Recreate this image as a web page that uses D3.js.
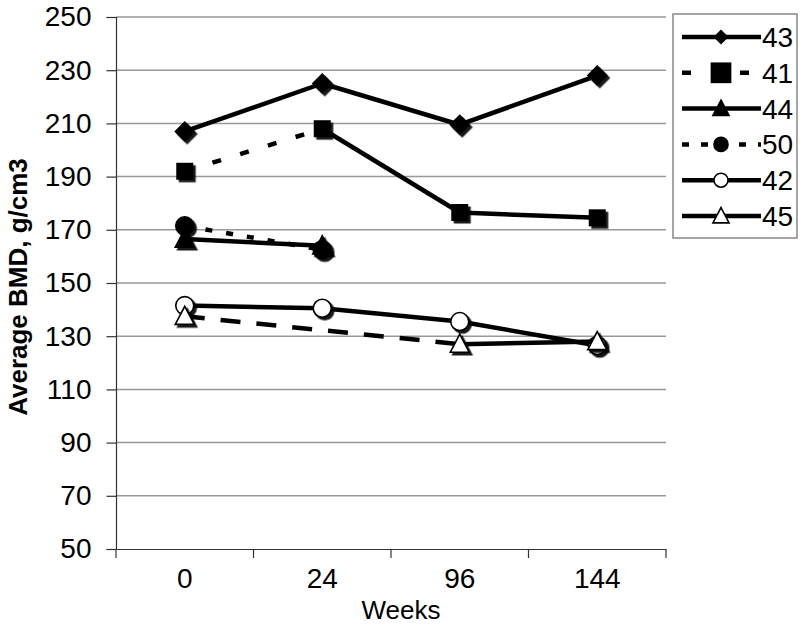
<!DOCTYPE html>
<html>
<head>
<meta charset="utf-8">
<script src="https://cdn.jsdelivr.net/npm/d3@7"></script>
<style>
  html, body { margin: 0; padding: 0; background: #fff; }
  svg { display: block; font-family: "Liberation Sans", Arial, sans-serif; }
</style>
</head>
<body>
<svg id="chart" width="800" height="630"></svg>
<script>
// ---- data ----
const weeks = ["0", "24", "96", "144"];
const yTicks = [50, 70, 90, 110, 130, 150, 170, 190, 210, 230, 250];
const seriesNames = ["43", "41", "44", "50", "42", "45"];
const s43 = [207, 225, 209.5, 228];
const s41 = [192, 208, 176.5, 174.5];
const s44 = [166.5, 164, null, null];
const s50 = [171.5, 162.5, null, null];
const s42 = [141.5, 140.5, 135.5, 126.5];
const s45 = [137.5, null, 127, 128];
const seriesValues = [s43, s41, s44, s50, s42, s45];

// ---- styles (kept separate from data) ----
const markerType = { "43": "diamond", "41": "square", "44": "triangle", "50": "circle", "42": "ocircle", "45": "otriangle" };
const legendMarkerScale = { "43": 0.72, "41": 1.22, "44": 0.85, "50": 0.78, "42": 0.78, "45": 0.85 };
const legendDash = { "43": null, "41": "9,20", "44": null, "50": "7,12", "42": null, "45": null };
// per-segment dash pattern (segment i joins consecutive plotted points)
const segmentDash = {
  "43": [null, null, null],
  "41": ["9,20", null, null],
  "44": [null],
  "50": ["7,14"],
  "42": [null, null, null],
  "45": ["20,16", null]
};

const svg = d3.select("#chart");
const margin = { left: 116, right: 134, top: 17, bottom: 81 };
const W = 800, H = 630;
const x0 = margin.left, x1 = W - margin.right;
const yTop = margin.top, yBot = H - margin.bottom;

const defs = svg.append("defs");
const f = defs.append("filter").attr("id", "shadow").attr("x", "-50%").attr("y", "-50%").attr("width", "200%").attr("height", "200%");
f.append("feDropShadow").attr("dx", 2.5).attr("dy", 2.5).attr("stdDeviation", 0.6).attr("flood-color", "#000").attr("flood-opacity", 0.9);

const x = d3.scaleBand().domain(weeks).range([x0, x1]).padding(0);
const y = d3.scaleLinear().domain([50, 250]).range([yBot, yTop]);
const cx = d => x(d) + x.bandwidth() / 2;

// gridlines
svg.append("g").selectAll("line").data(yTicks.filter(t => t > 50)).join("line")
  .attr("x1", x0).attr("x2", x1)
  .attr("y1", d => y(d)).attr("y2", d => y(d))
  .attr("stroke", "#999").attr("stroke-width", 1.5);

// y axis
const yAxis = svg.append("g").attr("transform", `translate(${x0},0)`)
  .call(d3.axisLeft(y).tickValues(yTicks).tickSize(9.5).tickPadding(15).tickFormat(d3.format("d")));
yAxis.select(".domain").attr("stroke", "#333").attr("stroke-width", 1.2);
yAxis.selectAll(".tick line").attr("stroke", "#333").attr("stroke-width", 1.2);
yAxis.selectAll("text").attr("font-size", 28).attr("fill", "#000").attr("font-family", "Liberation Sans, Arial, sans-serif");

// x axis
const xAxis = svg.append("g").attr("transform", `translate(0,${yBot})`)
  .call(d3.axisBottom(x).tickSize(0).tickPadding(0));
xAxis.select(".domain").attr("stroke", "#333").attr("stroke-width", 1.2);
xAxis.selectAll("text").attr("font-size", 28).attr("fill", "#000").attr("y", 39).attr("dy", null)
  .attr("font-family", "Liberation Sans, Arial, sans-serif");
// category boundary ticks
const bounds = weeks.map(d => x(d)).concat([x1]);
svg.append("g").selectAll("line").data(bounds).join("line")
  .attr("x1", d => d).attr("x2", d => d).attr("y1", yBot).attr("y2", yBot + 9)
  .attr("stroke", "#333").attr("stroke-width", 1.2);

// axis titles
svg.append("text").attr("x", (x0 + x1) / 2 + 10).attr("y", 619).attr("text-anchor", "middle")
  .attr("font-size", 26).text("Weeks");
svg.append("text").attr("transform", `translate(27,287) rotate(-90)`)
  .attr("text-anchor", "middle").attr("font-size", 26).attr("font-weight", "bold").text("Average BMD, g/cm3");

// marker drawing
function drawMarker(g, type, px, py, scale, shadow) {
  const s = scale || 1;
  const sh = g.append("g").attr("filter", shadow ? "url(#shadow)" : null);
  if (type === "diamond") {
    const r = 10.5 * s;
    sh.append("path").attr("d", `M${px},${py - r}L${px + r},${py}L${px},${py + r}L${px - r},${py}Z`).attr("fill", "#000");
  } else if (type === "square") {
    const r = 8.5 * s;
    sh.append("rect").attr("x", px - r).attr("y", py - r).attr("width", 2 * r).attr("height", 2 * r).attr("fill", "#000");
  } else if (type === "triangle" || type === "otriangle") {
    const r = 9.5 * s;
    sh.append("path").attr("d", `M${px},${py - r * 1.05}L${px + r},${py + r * 0.85}L${px - r},${py + r * 0.85}Z`)
      .attr("fill", type === "triangle" ? "#000" : "#fff").attr("stroke", "#000").attr("stroke-width", 1.6);
  } else if (type === "circle" || type === "ocircle") {
    const r = 9 * s;
    sh.append("circle").attr("cx", px).attr("cy", py).attr("r", r)
      .attr("fill", type === "circle" ? "#000" : "#fff").attr("stroke", "#000").attr("stroke-width", 1.6);
  }
}

// series
const plot = svg.append("g");
seriesNames.forEach((name, si) => {
  const vals = seriesValues[si];
  const pts = weeks.map((w, i) => ({ w, v: vals[i] })).filter(p => p.v != null);
  const g = plot.append("g");
  const line = d3.line().x(p => cx(p.w)).y(p => y(p.v));
  const segs = d3.pairs(pts);
  g.selectAll("path.seg").data(segs).join("path").attr("class", "seg")
    .attr("d", d => line(d)).attr("fill", "none").attr("stroke", "#000").attr("stroke-width", 4.5)
    .attr("stroke-dasharray", (d, i) => segmentDash[name][i]);
  pts.forEach(p => drawMarker(g, markerType[name], cx(p.w), y(p.v), 1, true));
});

// legend
const lg = svg.append("g");
lg.append("rect").attr("x", 673).attr("y", 14).attr("width", 124).attr("height", 224)
  .attr("fill", "#fff").attr("stroke", "#888").attr("stroke-width", 1.5);
seriesNames.forEach((name, i) => {
  const ly = 37 + i * 35.8;
  lg.append("line").attr("x1", 682).attr("x2", 761).attr("y1", ly).attr("y2", ly)
    .attr("stroke", "#000").attr("stroke-width", 4.5).attr("stroke-dasharray", legendDash[name]);
  const gm = lg.append("g");
  drawMarker(gm, markerType[name], 721, ly, legendMarkerScale[name], false);
  lg.append("text").attr("x", 762).attr("y", ly).attr("dy", "0.36em").attr("font-size", 28).text(name);
});
</script>
</body>
</html>
